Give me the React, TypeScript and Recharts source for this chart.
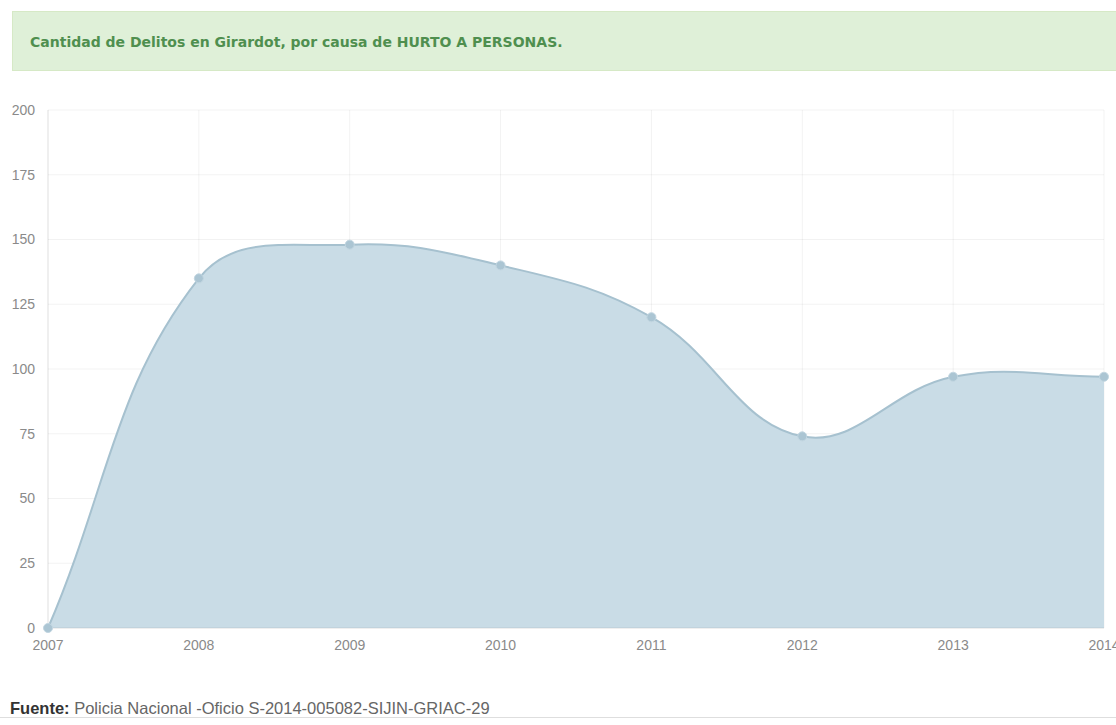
import React from 'react';
import { AreaChart, Area, XAxis, YAxis, CartesianGrid } from 'recharts';

const years = ['2007', '2008', '2009', '2010', '2011', '2012', '2013', '2014'];
const hurtos = [0, 135, 148, 140, 120, 74, 97, 97];
const yTicks = [0, 25, 50, 75, 100, 125, 150, 175, 200];

const data = years.map((year, i) => ({ year, hurtos: hurtos[i] }));

// bezier spline in the style of the old Chart.js line charts (tension 0.4)
class SplineCurve {
  _context: any;
  _line: number = NaN;
  _pts: number[][] = [];
  constructor(context: any) {
    this._context = context;
  }
  areaStart() {
    this._line = 0;
  }
  areaEnd() {
    this._line = NaN;
  }
  lineStart() {
    this._pts = [];
  }
  point(x: number, y: number) {
    this._pts.push([+x, +y]);
  }
  lineEnd() {
    const pts = this._pts;
    const n = pts.length;
    const ctx = this._context;
    if (n > 0) {
      if (this._line) ctx.lineTo(pts[0][0], pts[0][1]);
      else ctx.moveTo(pts[0][0], pts[0][1]);
      const tension = 0.4;
      const inner: number[][] = [];
      const outer: number[][] = [];
      for (let i = 0; i < n; i++) {
        const prev = pts[i - 1] || pts[i];
        const cur = pts[i];
        const next = pts[i + 1] || pts[i];
        const d01 = Math.hypot(cur[0] - prev[0], cur[1] - prev[1]);
        const d12 = Math.hypot(next[0] - cur[0], next[1] - cur[1]);
        const sum = d01 + d12;
        const fa = sum ? (tension * d01) / sum : 0;
        const fb = sum ? (tension * d12) / sum : 0;
        inner.push([cur[0] - fa * (next[0] - prev[0]), cur[1] - fa * (next[1] - prev[1])]);
        outer.push([cur[0] + fb * (next[0] - prev[0]), cur[1] + fb * (next[1] - prev[1])]);
      }
      for (let i = 1; i < n; i++) {
        ctx.bezierCurveTo(outer[i - 1][0], outer[i - 1][1], inner[i][0], inner[i][1], pts[i][0], pts[i][1]);
      }
    }
    if (this._line || (this._line !== 0 && n === 1)) ctx.closePath();
    this._line = 1 - this._line;
  }
}

const splineCurve = (context: any) => new SplineCurve(context);

const tickStyle = { fontSize: 14, fill: '#8a8a8a', fontFamily: '"Liberation Sans", Arial, sans-serif' };

export default function App() {
  return (
    <div
      style={{
        position: 'fixed',
        left: 0,
        top: 0,
        width: 1116,
        height: 725,
        overflow: 'hidden',
        background: '#fff',
      }}
    >
      <div
        style={{
          position: 'absolute',
          left: 12,
          top: 11,
          width: 1120,
          height: 58,
          background: '#dff0d8',
          border: '1px solid #d6e9c6',
        }}
      />
      <div
        style={{
          position: 'absolute',
          left: 30,
          top: 32,
          fontFamily: '"DejaVu Sans", Verdana, sans-serif',
          fontWeight: 'bold',
          fontSize: 14,
          lineHeight: '20px',
          color: '#4f8f4f',
          whiteSpace: 'nowrap',
        }}
      >
        Cantidad de Delitos en Girardot, por causa de HURTO A PERSONAS.
      </div>

      <div style={{ position: 'absolute', left: 0, top: 0 }}>
        <AreaChart width={1116} height={660} data={data} margin={{ top: 110, right: 12, left: 0, bottom: 0 }}>
          <CartesianGrid stroke="rgba(0,0,0,0.05)" />
          <XAxis
            dataKey="year"
            interval={0}
            height={32}
            tickLine={false}
            tickSize={6}
            tickMargin={6}
            axisLine={{ stroke: 'rgba(0,0,0,0.08)' }}
            tick={tickStyle}
          />
          <YAxis
            domain={[0, 200]}
            ticks={yTicks}
            interval={0}
            width={48}
            tickLine={false}
            tickSize={6}
            tickMargin={7}
            axisLine={{ stroke: 'rgba(0,0,0,0.08)' }}
            tick={tickStyle}
          />
          <Area
            type={splineCurve as any}
            dataKey="hurtos"
            stroke="#a6c1cf"
            strokeWidth={2}
            fill="#c9dce6"
            fillOpacity={1}
            dot={{ r: 4.5, fill: '#abc5d3', stroke: '#c2d6e1', strokeWidth: 1 }}
            activeDot={false}
            isAnimationActive={false}
          />
        </AreaChart>
      </div>

      <div
        style={{
          position: 'absolute',
          left: 10,
          top: 698,
          fontFamily: '"Liberation Sans", Arial, sans-serif',
          fontSize: 16.5,
          lineHeight: '20px',
          color: '#666',
          whiteSpace: 'nowrap',
        }}
      >
        <b style={{ color: '#333' }}>Fuente:</b> Policia Nacional -Oficio S-2014-005082-SIJIN-GRIAC-29
      </div>
      <div
        style={{
          position: 'absolute',
          left: 0,
          top: 717,
          width: 1116,
          height: 1,
          background: '#dedede',
        }}
      />
    </div>
  );
}
